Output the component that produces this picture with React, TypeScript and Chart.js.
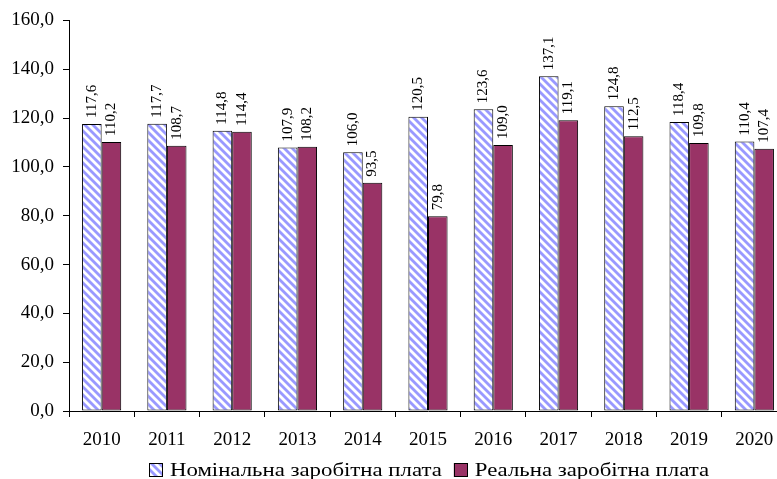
import React, { useEffect, useRef } from "react";
import { Chart, registerables } from "chart.js";

Chart.register(...registerables);

const years = ["2010", "2011", "2012", "2013", "2014", "2015", "2016", "2017", "2018", "2019", "2020"];
const nominalWage = [117.6, 117.7, 114.8, 107.9, 106.0, 120.5, 123.6, 137.1, 124.8, 118.4, 110.4];
const realWage = [110.2, 108.7, 114.4, 108.2, 93.5, 79.8, 109.0, 119.1, 112.5, 109.8, 107.4];
const seriesNames = ["Номінальна заробітна плата", "Реальна заробітна плата"];

const FONT = "'Liberation Serif', 'Times New Roman', serif";
const fmt = (v: number) => v.toFixed(1).replace(".", ",");

function makeHatch(): CanvasPattern | string {
  const c = document.createElement("canvas");
  c.width = 8;
  c.height = 8;
  const g = c.getContext("2d");
  if (!g) return "#9999ff";
  g.fillStyle = "#ffffff";
  g.fillRect(0, 0, 8, 8);
  g.strokeStyle = "#9999ff";
  g.lineWidth = 2.8;
  for (let k = -1; k <= 1; k++) {
    g.beginPath();
    g.moveTo(k * 8 - 2, -2);
    g.lineTo(k * 8 + 10, 10);
    g.stroke();
  }
  const p = g.createPattern(c, "repeat");
  return p || "#9999ff";
}

export default function App() {
  const ref = useRef<HTMLCanvasElement | null>(null);

  useEffect(() => {
    if (!ref.current) return;
    const hatch = makeHatch();
    const fills = [hatch, "#993366"];

    const labelPlugin = {
      id: "barLabels",
      afterDatasetsDraw(chart: any) {
        const ctx = chart.ctx;
        ctx.save();
        ctx.font = `15px ${FONT}`;
        ctx.fillStyle = "#000";
        ctx.textAlign = "left";
        ctx.textBaseline = "middle";
        chart.data.datasets.forEach((ds: any, di: number) => {
          const meta = chart.getDatasetMeta(di);
          meta.data.forEach((bar: any, i: number) => {
            ctx.save();
            ctx.translate(bar.x, bar.y - 6);
            ctx.rotate(-Math.PI / 2);
            ctx.fillText(fmt(ds.data[i]), 0, 0);
            ctx.restore();
          });
        });
        ctx.restore();
      },
    };

    const legendPlugin = {
      id: "customLegend",
      afterDraw(chart: any) {
        const ctx = chart.ctx;
        ctx.save();
        ctx.font = `19px ${FONT}`;
        ctx.textBaseline = "alphabetic";
        ctx.textAlign = "left";
        const stretch = 1.2;
        const box = 14;
        const gapBoxText = 7;
        const gapItems = 12;
        const widths = seriesNames.map((n) => ctx.measureText(n).width * stretch);
        const total = widths.reduce((a, w) => a + box + gapBoxText + w, 0) + gapItems;
        const cx = 429;
        const boxTop = 463;
        const baseline = 476;
        let x = cx - total / 2;
        seriesNames.forEach((n, i) => {
          ctx.fillStyle = fills[i] as any;
          ctx.fillRect(x, boxTop, box, box);
          ctx.strokeStyle = "#000";
          ctx.lineWidth = 1;
          ctx.strokeRect(Math.round(x) + 0.5, boxTop + 0.5, box - 1, box - 1);
          ctx.fillStyle = "#000";
          ctx.save();
          ctx.translate(x + box + gapBoxText, baseline);
          ctx.scale(stretch, 1);
          ctx.fillText(n, 0, 0);
          ctx.restore();
          x += box + gapBoxText + widths[i] + gapItems;
        });
        ctx.restore();
      },
    };

    const chart = new Chart(ref.current, {
      type: "bar",
      data: {
        labels: years,
        datasets: [
          {
            label: seriesNames[0],
            data: nominalWage,
            backgroundColor: hatch as any,
            borderColor: "#000",
            borderWidth: 1,
            borderSkipped: false,
            categoryPercentage: 0.6,
            barPercentage: 1,
          },
          {
            label: seriesNames[1],
            data: realWage,
            backgroundColor: "#993366",
            borderColor: "#000",
            borderWidth: 1,
            borderSkipped: false,
            categoryPercentage: 0.6,
            barPercentage: 1,
          },
        ],
      },
      options: {
        responsive: false,
        animation: false,
        layout: { padding: { top: 19, right: 13, bottom: 26, left: 0 } },
        plugins: {
          legend: { display: false },
          tooltip: { enabled: false },
        },
        scales: {
          x: {
            grid: {
              display: true,
              drawOnChartArea: false,
              drawTicks: true,
              tickLength: 6,
              color: "#000",
              offset: true,
            },
            border: { display: true, color: "#000", width: 1 },
            ticks: {
              color: "#000",
              font: { family: FONT, size: 19 },
              padding: 12,
              maxRotation: 0,
              autoSkip: false,
            },
            afterFit: (s: any) => {
              s.height = 42;
            },
          },
          y: {
            min: 0,
            max: 160,
            grid: {
              display: true,
              drawOnChartArea: false,
              drawTicks: true,
              tickLength: 6,
              color: "#000",
            },
            border: { display: true, color: "#000", width: 1 },
            ticks: {
              stepSize: 20,
              color: "#000",
              font: { family: FONT, size: 19 },
              padding: 9,
              callback: (v: any) => fmt(Number(v)),
            },
            afterFit: (s: any) => {
              s.width = 69;
            },
          },
        },
      },
      plugins: [labelPlugin, legendPlugin],
    });
    return () => chart.destroy();
  }, []);

  return (
    <div style={{ position: "fixed", left: 0, top: 0, width: 777, height: 479, overflow: "hidden", background: "#fff" }}>
      <canvas ref={ref} width={800} height={479} style={{ display: "block" }} />
    </div>
  );
}
